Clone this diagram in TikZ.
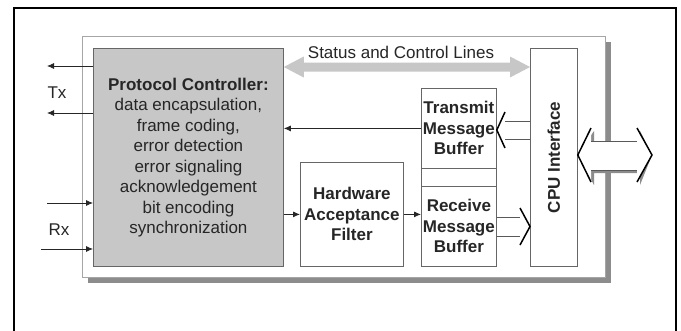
\documentclass[tikz,border=0pt]{standalone}
\usepackage{fontspec}
\setmainfont{Liberation Sans}
\usetikzlibrary{arrows.meta,calc}
\begin{document}
\begin{tikzpicture}[x=1pt,y=-1pt,
  box/.style={draw=black!60, line width=0.8pt, inner sep=0pt, anchor=north west, align=center},
  lbl/.style={font=\fontsize{17}{20.5}\selectfont, align=center, text=black!85},
  blbl/.style={font=\fontsize{17}{20.5}\selectfont\bfseries, align=center, text=black!85},
  sig/.style={draw=black!85, line width=0.8pt, -{Latex[length=7pt,width=6pt]}},
  hl/.style={draw=black!65, line width=0.8pt},
  chev/.style={draw=black, line width=1.5pt, line join=miter},
  ]
\useasboundingbox (0,0) rectangle (681,330);
\begin{scope}
  \clip (0,0) rectangle (681,330);
  \draw[line width=1.6pt] (14,8) rectangle (676,345);
\end{scope}
% inner frame with shadow
\fill[black!45] (88,42) rectangle (611,283);
\draw[draw=black!35, fill=white, line width=0.8pt] (82,36) rectangle (605,277);

% blocks
\node[box, fill=black!22, minimum width=190pt, minimum height=218pt, lbl] (pc) at (93,48)
  {\textbf{Protocol Controller:}\\data encapsulation,\\frame coding,\\error detection\\error signaling\\acknowledgement\\bit encoding\\synchronization};
\node[box, minimum width=47pt, minimum height=218pt] (cpu) at (530,48) {};
\node[blbl, rotate=90] (cputxt) at (cpu.center) {CPU Interface};
\node[box, minimum width=103pt, minimum height=104pt, blbl] (hf) at (300,162) {Hardware\\Acceptance\\Filter};
\node[box, minimum width=75pt, minimum height=80pt, blbl] (txb) at (421,88) {Transmit\\Message\\Buffer};
\node[box, minimum width=75pt, minimum height=18pt] (dv) at (421,168) {};
\node[box, minimum width=75pt, minimum height=80pt, blbl] (rxb) at (421,186) {Receive\\Message\\Buffer};

% status and control lines
\coordinate (sa) at (pc.east |- 0,67);
\coordinate (sb) at (cpu.west |- 0,67);
\fill[black!22] (sa) -- ++(20,-10.5) -- ++(0,6) -- ($(sb)+(-20,-4.5)$) -- ++(0,-6) -- (sb)
  -- ++(-20,10.5) -- ++(0,-6) -- ($(sa)+(20,4.5)$) -- ++(0,6) -- cycle;
\node[lbl] (st) at (401,52) {Status and Control Lines};

% Tx / Rx
\coordinate (tx1) at (47,66);
\coordinate (tx2) at (47,113);
\coordinate (rx1) at (47,203);
\coordinate (rx2) at (41,249);
\draw[sig] (pc.west |- tx1) -- (tx1);
\draw[sig] (pc.west |- tx2) -- (tx2);
\draw[sig] (rx1) -- (pc.west |- rx1);
\draw[sig] (rx2) -- (pc.west |- rx2);
\node[lbl] (txl) at (57,93) {Tx};
\node[lbl] (rxl) at (59,230) {Rx};

% internal signals
\draw[sig] (txb.west) -- (pc.east |- txb.west);
\draw[sig] (pc.east |- hf.west) -- (hf.west);
\draw[sig] (hf.east) -- (rxb.west |- hf.east);

% hollow arrow CPU -> transmit buffer
\coordinate (ha) at (txb.east |- 0,130);
\draw[hl] (cpu.west |- 0,121) -- (505,121);
\draw[hl] (cpu.west |- 0,139) -- (505,139);
\draw[chev] (505,112) -- (ha) -- (505,148);

% hollow arrow receive buffer -> CPU
\coordinate (hb) at (cpu.west |- 0,226.5);
\draw[hl] (rxb.east |- 0,217) -- (520,217);
\draw[hl] (rxb.east |- 0,236) -- (520,236);
\draw[chev] (520,208) -- (hb) -- (520,245);

% external double hollow arrow
\coordinate (hc) at (cpu.east |- 0,155);
\coordinate (hd) at (652,155);
\fill[black!45, shift={(3,3)}] (hc) -- (591,128) -- (591,141) -- (637,141) -- (637,128) -- (hd)
  -- (637,182) -- (637,170) -- (591,170) -- (591,182) -- cycle;
\fill[white] (hc) -- (591,128) -- (591,141) -- (637,141) -- (637,128) -- (hd)
  -- (637,182) -- (637,170) -- (591,170) -- (591,182) -- cycle;
\draw[hl] (591,141) -- (637,141);
\draw[hl] (591,170) -- (637,170);
\draw[chev] (591,128) -- (hc) -- (591,182);
\draw[chev] (637,128) -- (hd) -- (637,182);
\end{tikzpicture}
\end{document}
